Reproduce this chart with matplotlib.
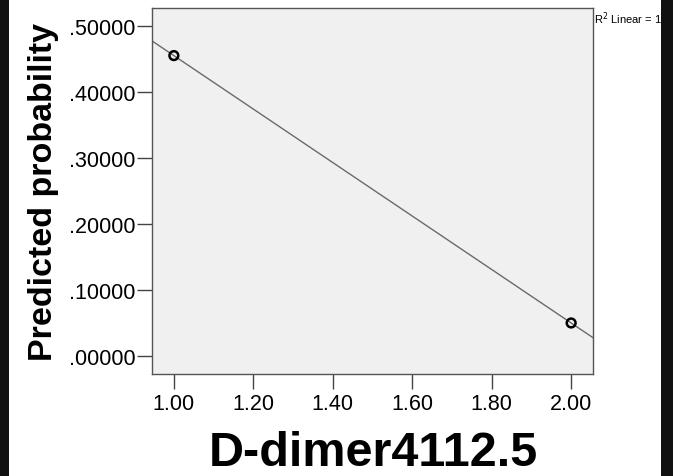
import matplotlib
matplotlib.use("Agg")
import matplotlib.pyplot as plt
import numpy as np
from matplotlib.patches import Rectangle

# Data
x_vals = [1.00, 2.00]
y_vals = [0.4545, 0.0500]
x_ticks = [1.00, 1.20, 1.40, 1.60, 1.80, 2.00]
y_ticks = [0.0, 0.1, 0.2, 0.3, 0.4, 0.5]
x_label = "D-dimer4112.5"
y_label = "Predicted probability"
fit_label = "R$^2$ Linear = 1"

plt.rcParams['font.family'] = ['Liberation Sans', 'DejaVu Sans']

W, H = 673, 477
fig = plt.figure(figsize=(W / 100, H / 100), dpi=100)
fig.patch.set_facecolor('white')

# black side strips
fig.patches.append(Rectangle((0, 0), 9 / W, 1, transform=fig.transFigure,
                             facecolor='#111111', edgecolor='none', zorder=0))
fig.patches.append(Rectangle((661 / W, 0), 12 / W, 1, transform=fig.transFigure,
                             facecolor='#111111', edgecolor='none', zorder=0))

L, R, T, B = 152, 593, 9, 375
ax = fig.add_axes([L / W, 1 - B / H, (R - L) / W, (B - T) / H])
ax.set_facecolor('#f0f0f0')

xlo, xhi = 0.945, 2.055
ylo, yhi = -0.0272, 0.5265
ax.set_xlim(xlo, xhi)
ax.set_ylim(ylo, yhi)

# linear fit line through the points
coef = np.polyfit(x_vals, y_vals, 1)
xx = np.array([xlo, xhi])
ax.plot(xx, np.polyval(coef, xx), color='#6a6a6a', lw=1.0, zorder=2)
ax.scatter(x_vals, y_vals, s=40, facecolors='none', edgecolors='black',
           linewidths=1.8, zorder=3)

ax.set_xticks(x_ticks)
ax.set_xticklabels([f"{v:.2f}" for v in x_ticks])
ax.set_yticks(y_ticks)
ax.set_yticklabels([f"{v:.5f}"[1:] for v in y_ticks])
ax.tick_params(axis='both', direction='out', length=10.8, width=1.0,
               color='#444444', labelsize=15.5, labelcolor='black')
ax.tick_params(axis='y', pad=1)
ax.tick_params(axis='x', pad=3)
for s in ax.spines.values():
    s.set_color('#555555')
    s.set_linewidth(1.0)

ax.set_xlabel(x_label, fontsize=35, fontweight='bold')
ax.xaxis.label.set_va('baseline')
ax.xaxis.set_label_coords(0.503, (B - 466) / (B - T))

ax.set_ylabel(y_label, fontsize=24.5, fontweight='bold')
ax.yaxis.label.set_va('baseline')
ax.yaxis.set_label_coords((52 - L) / (R - L), 0.5)

fig.text(594 / W, 1 - 19 / H, fit_label, fontsize=8, ha='left', va='center')

fig.savefig("out.png", dpi=100)
